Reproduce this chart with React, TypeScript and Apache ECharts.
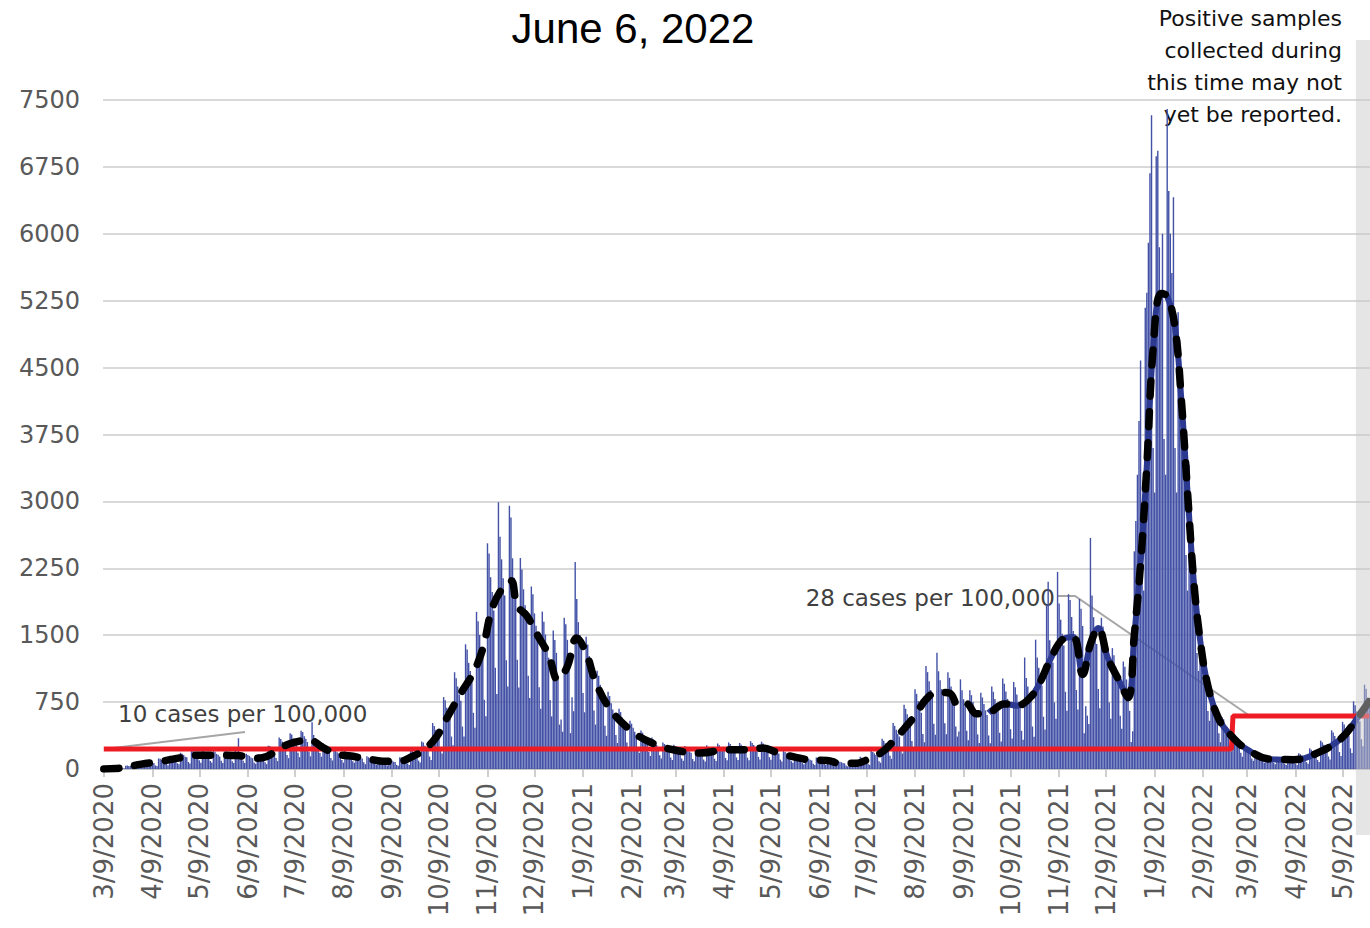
import React, { useEffect, useRef } from "react";
import * as echarts from "echarts";

// Daily positive cases, Monday..Sunday blocks, starting Monday 3/9/2020
const casesSpring2020 = [
  1, 2, 3, 4, 6, 2, 2,
  8, 11, 12, 15, 16, 7, 5,
  36, 40, 33, 35, 29, 17, 13,
  72, 70, 66, 58, 54, 31, 26,
  96, 88, 82, 74, 68, 40, 33,
  118, 116, 102, 97, 83, 57, 41,
  148, 142, 122, 118, 104, 64, 52,
  182, 171, 158, 138, 131, 78, 62,
  214, 208, 182, 172, 148, 97, 70,
  212, 196, 181, 160, 150, 90, 72,
  204, 192, 170, 160, 140, 92, 66,
  198, 197, 172, 157, 146, 86, 68,
  202, 188, 345, 158, 142, 92, 66,
  172, 158, 147, 128, 120, 73, 58,
  162, 165, 140, 134, 118, 77, 54,
  262, 258, 228, 212, 188, 122, 88,
  352, 336, 308, 278, 252, 158, 122,
];
const casesSummer2020 = [
  402, 388, 342, 318, 282, 182, 132,
  428, 414, 366, 338, 302, 192, 142,
  525, 382, 348, 312, 288, 178, 138,
  288, 268, 242, 218, 202, 124, 96,
  220, 212, 188, 175, 155, 101, 72,
  204, 190, 174, 156, 144, 88, 70,
  166, 162, 142, 133, 117, 77, 54,
  144, 132, 123, 108, 102, 61, 48,
  120, 117, 102, 97, 83, 56, 38,
  110, 100, 94, 82, 78, 46, 37,
  133, 130, 113, 107, 93, 62, 44,
  218, 203, 186, 166, 154, 94, 74,
  308, 296, 262, 245, 215, 140, 102,
];
const casesFall2020 = [
  516, 482, 440, 396, 364, 226, 174,
  806, 772, 686, 634, 566, 364, 266,
  1085, 1018, 925, 836, 765, 476, 364,
  1398, 1340, 1190, 1098, 982, 630, 462,
  1762, 1655, 1502, 1358, 1242, 776, 590,
  2530, 2415, 2150, 1985, 1778, 1135, 840,
  2990, 2605, 2350, 2138, 1945, 1218, 925,
  2950, 2820, 2362, 2145, 1952, 1226, 915,
  2365, 2236, 2015, 1835, 1668, 1046, 795,
  2046, 1958, 1744, 1606, 1432, 916, 676,
  1765, 1652, 1508, 1362, 1248, 774, 590,
  1552, 1446, 1302, 1004, 498, 556, 418,
  1696, 1624, 1448, 1252, 402, 804, 648,
];
const casesSpring2021 = [
  2320, 1905, 1646, 1502, 1348, 852, 636,
  1484, 1396, 1266, 1146, 1044, 656, 498,
  1102, 1046, 944, 856, 784, 486, 372,
  866, 818, 738, 668, 612, 382, 292,
  676, 638, 578, 522, 478, 298, 228,
  542, 508, 462, 418, 382, 238, 182,
  432, 408, 370, 334, 306, 190, 146,
  352, 330, 302, 270, 248, 154, 118,
  298, 280, 255, 229, 211, 130, 100,
  272, 254, 232, 208, 192, 118, 92,
  258, 240, 220, 198, 182, 112, 88,
  244, 228, 209, 187, 173, 106, 83,
  265, 248, 226, 203, 187, 115, 90,
  286, 266, 244, 218, 202, 124, 97,
  298, 280, 255, 229, 211, 130, 101,
  292, 272, 250, 224, 206, 127, 99,
  312, 291, 268, 240, 220, 136, 106,
  306, 285, 262, 234, 216, 133, 103,
];
const casesSummer2021 = [
  245, 228, 209, 187, 173, 106, 83,
  204, 190, 175, 156, 144, 88, 70,
  156, 146, 134, 120, 110, 68, 53,
  137, 126, 117, 104, 96, 59, 46,
  129, 121, 111, 99, 91, 56, 44,
  96, 89, 82, 73, 67, 41, 33,
  89, 82, 76, 67, 63, 38, 30,
  90, 82, 77, 66, 63, 38, 30,
  137, 126, 117, 104, 96, 59, 46,
  205, 190, 175, 156, 144, 88, 70,
  340, 318, 290, 260, 240, 148, 114,
  515, 484, 440, 396, 364, 226, 174,
  720, 675, 614, 552, 508, 314, 242,
  895, 842, 762, 690, 630, 392, 300,
  1155, 1086, 984, 886, 814, 506, 384,
  1302, 1096, 994, 896, 826, 512, 390,
  1085, 1022, 924, 836, 766, 476, 364,
];
const casesFall2021 = [
  420, 1005, 882, 782, 702, 428, 322,
  884, 828, 752, 678, 622, 388, 292,
  855, 802, 728, 658, 604, 376, 288,
  925, 866, 784, 712, 648, 406, 308,
  1015, 956, 868, 786, 714, 446, 342,
  975, 916, 834, 752, 688, 428, 328,
  1250, 1020, 924, 836, 764, 476, 362,
  1450, 1250, 1134, 1026, 934, 586, 444,
  1840, 2100, 1444, 1306, 1194, 746, 564,
  2210, 1856, 1674, 1516, 1384, 866, 654,
  1960, 1895, 1704, 1546, 1404, 886, 668,
  1905, 1796, 1604, 402, 704, 598, 504,
  2590, 1946, 1702, 1548, 1402, 898, 682,
  1695, 1598, 1444, 1306, 1194, 746, 564,
  1355, 1276, 1154, 1046, 954, 596, 452,
  1205, 1146, 1004, 896, 652, 302, 424,
];
const casesOmicron = [
  2440, 2780, 3300, 3900, 4580, 2300, 2000,
  5170, 5340, 5900, 6680, 7330, 3600, 3100,
  6870, 6930, 5850, 5270, 6000, 3700, 3300,
  7400, 6480, 6000, 5560, 6410, 3600, 3100,
  5120, 4800, 4150, 3900, 3410, 2400, 2000,
  3410, 3000, 2600, 2300, 1900, 1300, 1100,
  1470, 1500, 1300, 1150, 975, 650, 540,
  900, 850, 760, 690, 640, 400, 300,
];
const casesSpring2022 = [
  580, 558, 492, 448, 402, 262, 198,
  412, 388, 352, 318, 292, 182, 138,
  272, 254, 232, 208, 192, 118, 92,
  206, 194, 176, 158, 146, 90, 70,
  156, 146, 134, 120, 110, 68, 53,
  137, 126, 117, 104, 96, 59, 46,
  136, 128, 115, 106, 95, 61, 44,
  176, 166, 151, 136, 125, 77, 59,
  232, 216, 198, 178, 164, 101, 78,
  318, 300, 272, 246, 224, 140, 107,
  434, 408, 370, 334, 306, 190, 146,
  528, 498, 452, 408, 374, 232, 178,
  758, 715, 646, 586, 534, 334, 254,
  945, 900, 800, 750,
];

const dailyCases = [
  ...casesSpring2020, ...casesSummer2020, ...casesFall2020, ...casesSpring2021,
  ...casesSummer2021, ...casesFall2021, ...casesOmicron, ...casesSpring2022,
];

// Smoothed trend (day index from 3/9/2020, value)
const trendDays = [
  0, 8, 24, 38, 50, 60, 72, 86, 96, 104, 113, 122, 131, 140, 148, 158, 168, 178, 188,
  197, 204, 212, 220, 228, 236, 242, 248, 255, 260, 264, 270, 277, 284, 290, 296, 302,
  308, 314, 323, 336, 349, 365, 381, 398, 412, 421, 430, 442, 452, 462, 470, 481, 488,
  497, 504, 511, 518, 525, 532, 540, 546, 551, 557, 565, 575, 583, 592, 598, 605, 612,
  619, 625, 630, 635, 641, 648, 654, 658, 662, 666, 670, 675, 679, 684, 688, 692, 696,
  700, 705, 712, 720, 730, 745, 760, 775, 790, 800, 808,
];
const trendValues = [
  0, 5, 55, 90, 130, 155, 155, 150, 120, 140, 240, 300, 325, 240, 170, 145, 115, 88, 85,
  140, 210, 350, 600, 850, 1080, 1350, 1800, 2040, 2110, 1830, 1720, 1500, 1280, 1000, 1150, 1470,
  1300, 980, 680, 440, 300, 210, 180, 215, 215, 235, 185, 130, 100, 95, 65, 65, 110,
  190, 310, 450, 600, 780, 860, 850, 700, 730, 620, 630, 730, 710, 810, 980, 1250, 1450,
  1480, 1060, 1400, 1580, 1250, 1000, 800, 1500, 2300, 3400, 4700, 5330, 5300, 4950, 4150, 3100, 2100,
  1450, 930, 560, 370, 220, 110, 105, 180, 340, 560, 760,
];
const navyStartDay = 575;

// Reporting thresholds (10 and 28 cases per 100,000)
const thresholdDays = [0, 720, 721, 808];
const thresholdValues = [224, 224, 594, 594];

const yMin = 0;
const yMax = 7500;
const yInterval = 750;
const shadedFromDay = 800;

const titleText = "June 6, 2022";
const noteText = "Positive samples\ncollected during\nthis time may not\nyet be reported.";
const lowLabel = "10 cases per 100,000";
const highLabel = "28 cases per 100,000";

function makeDates(n: number): string[] {
  const base = Date.UTC(2020, 2, 9);
  const out: string[] = [];
  for (let i = 0; i < n; i++) {
    const dt = new Date(base + i * 86400000);
    out.push(`${dt.getUTCMonth() + 1}/${dt.getUTCDate()}/${dt.getUTCFullYear()}`);
  }
  return out;
}

const isNinth = (_i: number, v: string) => v.split("/")[1] === "9";

export default function App() {
  const ref = useRef<HTMLDivElement>(null);
  useEffect(() => {
    if (!ref.current) return;
    const chart = echarts.init(ref.current, null, { renderer: "svg" });
    const dates = makeDates(dailyCases.length);
    const trendPairs = trendDays.map((d, i) => [d, trendValues[i]]);
    const navyPairs = trendPairs.filter((p) => p[0] >= navyStartDay - 10);
    const thresholdPairs = thresholdDays.map((d, i) => [d, thresholdValues[i]]);
    const font = "DejaVu Sans";

    chart.setOption({
      animation: false,
      grid: { left: 103, right: 0, top: 100, bottom: 159, containLabel: false },
      xAxis: {
        type: "category",
        data: dates,
        boundaryGap: true,
        axisLine: { lineStyle: { color: "#bfbfbf", width: 1.5 } },
        axisTick: { show: true, interval: isNinth, alignWithLabel: true, length: 8, lineStyle: { color: "#bfbfbf", width: 1.5 } },
        axisLabel: { interval: isNinth, rotate: 90, fontSize: 26, color: "#595959", fontFamily: font, margin: 14 },
        splitLine: { show: false },
      },
      yAxis: {
        type: "value",
        min: yMin,
        max: yMax,
        interval: yInterval,
        axisLine: { show: false },
        axisTick: { show: false },
        axisLabel: { fontSize: 24, color: "#595959", fontFamily: font, margin: 23, formatter: (v: number) => String(v) },
        splitLine: { lineStyle: { color: "#d9d9d9", width: 2 } },
      },
      series: [
        { type: "bar", data: dailyCases, barWidth: "90%", itemStyle: { color: "#4351a6" }, z: 1 },
        { type: "line", data: thresholdPairs, symbol: "none", lineStyle: { color: "#ed1c24", width: 5 }, z: 3 },
        { type: "line", data: navyPairs, smooth: 0.4, symbol: "none", lineStyle: { color: "#2b3990", width: 6 }, z: 4 },
        {
          type: "line",
          data: trendPairs,
          smooth: 0.4,
          symbol: "none",
          lineStyle: { color: "#000000", width: 7.5, type: [15, 16], cap: "round" },
          z: 5,
        },
      ],
    });

    const bandStart = (chart.convertToPixel({ xAxisIndex: 0 }, shadedFromDay) as number) - 1.566 / 2;

    chart.setOption({
      graphic: [
        {
          type: "text",
          x: 633,
          y: 28,
          style: { text: titleText, fontSize: 42, fontFamily: "Liberation Sans", fill: "#000", align: "center", verticalAlign: "middle", textAlign: "center", textVerticalAlign: "middle" },
        },
        {
          type: "text",
          x: 1342,
          y: 2,
          style: { text: noteText, fontSize: 22, lineHeight: 32, fontFamily: font, fill: "#111", align: "right", verticalAlign: "top", textAlign: "right", textVerticalAlign: "top" },
        },
        {
          type: "text",
          x: 118,
          y: 714,
          style: { text: lowLabel, fontSize: 23, fontFamily: font, fill: "#404040", align: "left", verticalAlign: "middle", textAlign: "left", textVerticalAlign: "middle" },
        },
        {
          type: "text",
          x: 1055,
          y: 598,
          style: { text: highLabel, fontSize: 23, fontFamily: font, fill: "#404040", align: "right", verticalAlign: "middle", textAlign: "right", textVerticalAlign: "middle" },
        },
        { type: "line", shape: { x1: 105, y1: 749, x2: 245, y2: 732 }, style: { stroke: "#a6a6a6", lineWidth: 2 } },
        { type: "polyline", shape: { points: [[1058, 596], [1075, 596], [1250, 716]] }, style: { stroke: "#a6a6a6", lineWidth: 2, fill: null } },
        {
          type: "rect",
          z: 100,
          shape: { x: bandStart, y: 40, width: 1370 - bandStart + 20, height: 795 },
          style: { fill: "rgba(200,200,200,0.48)" },
        },
      ],
    });
    return () => chart.dispose();
  }, []);
  return <div ref={ref} style={{ position: "fixed", left: 0, top: 0, width: 1370, height: 928, background: "#fff" }} />;
}
